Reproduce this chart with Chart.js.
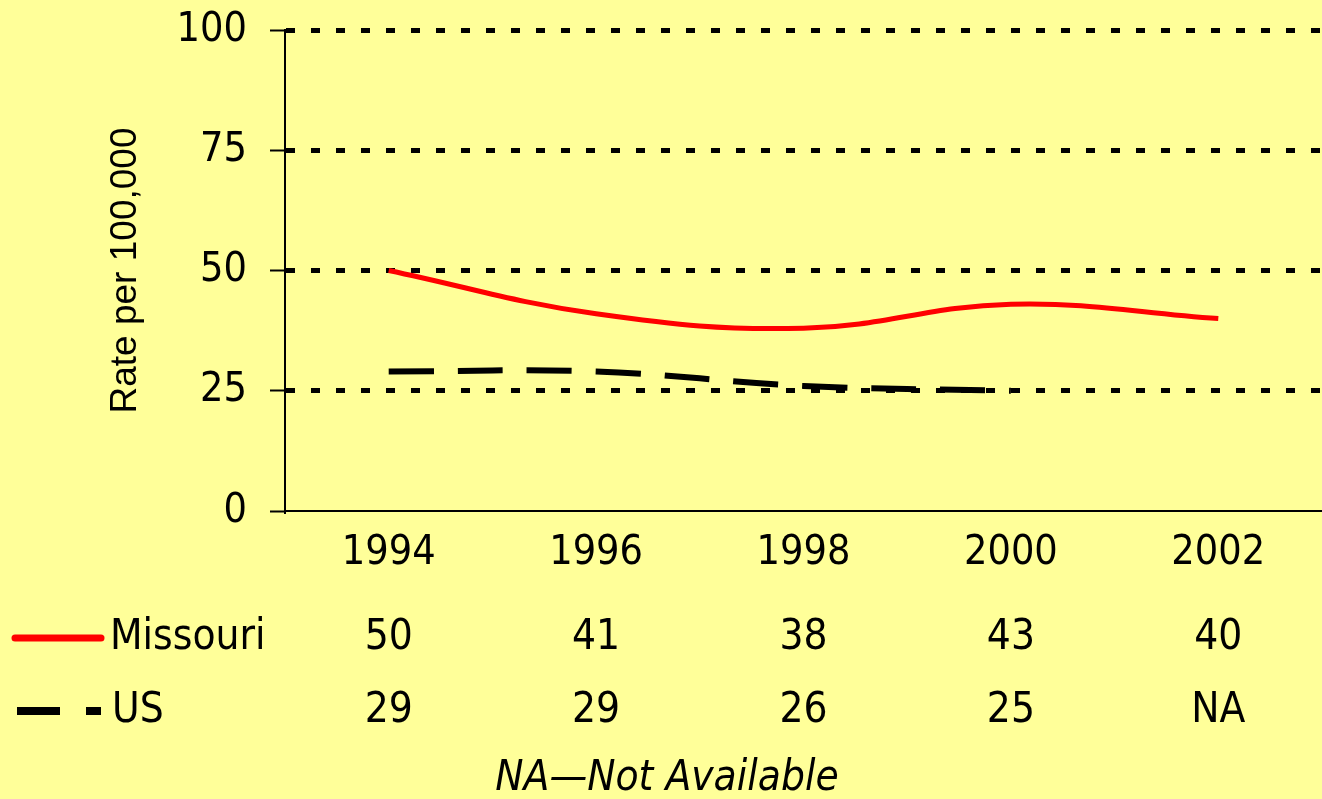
<!DOCTYPE html>
<html>
<head>
<meta charset="utf-8">
<title>Rate per 100,000 - Missouri vs US</title>
<script src="https://cdn.jsdelivr.net/npm/chart.js@4.4.0/dist/chart.umd.min.js"></script>
<style>
  html, body { margin: 0; padding: 0; background: #FFFF99; }
  #wrap { width: 1322px; height: 799px; }
</style>
</head>
<body>
<div id="wrap"><canvas id="rateChart" width="1322" height="799"></canvas></div>
<script>
// data
const years = ['1994', '1996', '1998', '2000', '2002'];
const missouri = [50, 41, 38, 43, 40];
const us = [29, 29, 26, 25, null];   // 2002 not available
const yTicks = [0, 25, 50, 75, 100];

const FONT = "'DejaVu Sans Condensed', 'DejaVu Sans', sans-serif";
const BG = '#FFFF99';

// draws the little data table under the axis (legend sample + values)
const tablePlugin = {
  id: 'dataTable',
  afterDraw(chart) {
    const ctx = chart.ctx;
    const x = chart.scales.x;
    const rows = [
      { name: 'Missouri', values: missouri, y: 638, color: '#FF0000', dash: [], width: 7, x0: 15, x1: 101, cap: 'round', tx: 110 },
      { name: 'US', values: us, y: 711, color: '#000000', dash: [43, 26], width: 8, x0: 17, x1: 101, cap: 'butt', tx: 112 }
    ];
    ctx.save();
    rows.forEach(r => {
      // legend sample
      ctx.beginPath();
      ctx.strokeStyle = r.color;
      ctx.lineWidth = r.width;
      ctx.lineCap = r.cap;
      ctx.setLineDash(r.dash);
      ctx.moveTo(r.x0, r.y);
      ctx.lineTo(r.x1, r.y);
      ctx.stroke();
      ctx.setLineDash([]);

      ctx.fillStyle = '#000';
      ctx.font = '42px ' + FONT;
      ctx.textBaseline = 'middle';
      ctx.textAlign = 'left';
      ctx.fillText(r.name, r.tx, r.y);

      ctx.textAlign = 'center';
      r.values.forEach((v, i) => {
        ctx.fillText(v === null ? 'NA' : String(v), x.getPixelForValue(i), r.y);
      });
    });
    ctx.font = 'italic 42px ' + FONT;
    ctx.textAlign = 'center';
    ctx.fillText('NA\u2014Not Available', 667, 779);
    ctx.restore();
  }
};

const bgPlugin = {
  id: 'bg',
  beforeDraw(chart) {
    const ctx = chart.ctx;
    ctx.save();
    ctx.fillStyle = BG;
    ctx.fillRect(0, 0, chart.width, chart.height);
    ctx.restore();
  }
};

new Chart(document.getElementById('rateChart'), {
  type: 'line',
  data: {
    labels: years,
    datasets: [
      {
        label: 'Missouri',
        data: missouri,
        borderColor: '#FF0000',
        borderWidth: 5,
        tension: 0.4,
        pointRadius: 0,
        fill: false
      },
      {
        label: 'US',
        data: us,
        borderColor: '#000000',
        borderWidth: 6,
        borderDash: [45, 24],
        tension: 0.4,
        pointRadius: 0,
        fill: false,
        spanGaps: false
      }
    ]
  },
  options: {
    responsive: false,
    animation: false,
    layout: { padding: { top: 30, right: 0, bottom: 0, left: 0 } },
    plugins: {
      legend: { display: false },
      tooltip: { enabled: false }
    },
    scales: {
      x: {
        type: 'category',
        offset: true,
        border: { display: true, color: '#000', width: 2 },
        grid: { display: false, drawTicks: false },
        ticks: { color: '#000', font: { family: FONT, size: 41 }, padding: 18, maxRotation: 0 },
        afterFit(s) { s.height = 288; }
      },
      y: {
        min: 0,
        max: 100,
        afterBuildTicks(s) { s.ticks = yTicks.map(v => ({ value: v })); },
        border: { display: true, color: '#000', width: 2, dash: [9, 16] },
        grid: {
          color: c => (c.tick && c.tick.value === 0 ? 'rgba(0,0,0,0)' : '#000'),
          lineWidth: 5,
          drawTicks: true,
          tickLength: 15,
          tickColor: '#000',
          tickWidth: 2,
          tickBorderDash: []
        },
        ticks: { color: '#000', font: { family: FONT, size: 41 }, padding: 23 },
        title: {
          display: true,
          text: 'Rate per 100,000',
          color: '#000',
          font: { family: "'Liberation Sans', Arial, sans-serif", size: 37 },
          padding: { top: 104, bottom: 0 }
        },
        afterFit(s) {
          s.width = 285;
          s.paddingTop = 0;
          s.paddingBottom = 0;
        }
      }
    }
  },
  plugins: [bgPlugin, tablePlugin]
});
</script>
</body>
</html>
